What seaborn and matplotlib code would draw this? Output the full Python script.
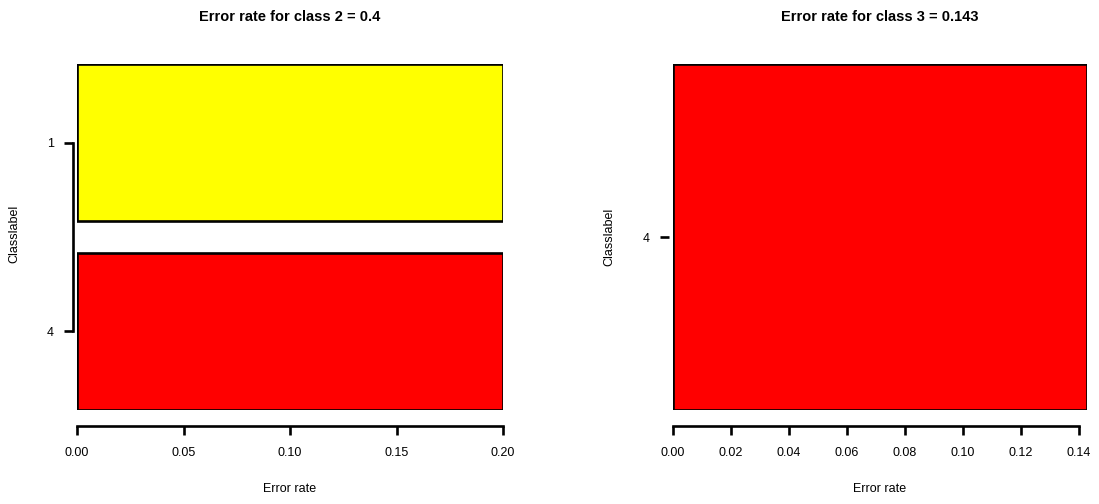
import matplotlib
matplotlib.use("Agg")
import matplotlib.pyplot as plt
import seaborn as sns
import pandas as pd
from matplotlib.ticker import FormatStrFormatter

# ---- data ----
left_title = "Error rate for class 2 = 0.4"
left_classes = ["1", "4"]
left_rates = [0.2, 0.2]
left_colors = ["#FFFF00", "#FF0000"]
left_xticks = [0.00, 0.05, 0.10, 0.15, 0.20]

right_title = "Error rate for class 3 = 0.143"
right_classes = ["4"]
right_rates = [0.142857]
right_colors = ["#FF0000"]
right_xticks = [0.00, 0.02, 0.04, 0.06, 0.08, 0.10, 0.12, 0.14]

x_label = "Error rate"
y_label = "Classlabel"

sns.set_style("white")
plt.rcParams["font.family"] = ["Liberation Sans", "DejaVu Sans"]
plt.rcParams["text.color"] = "black"
plt.rcParams["axes.labelcolor"] = "black"

W, H = 1099, 504
fig = plt.figure(figsize=(W / 100, H / 100), dpi=100)

BAR_W = 1 / 1.2
LW = 1.9


def panel(rect, title, classes, rates, colors, xticks, xmax):
    ax = fig.add_axes(rect)
    df = pd.DataFrame({"cls": classes, "rate": rates})
    sns.barplot(data=df, x="rate", y="cls", hue="cls", palette=colors,
                orient="h", width=BAR_W, edgecolor="black", linewidth=LW,
                legend=False, saturation=1, ax=ax)
    n = len(classes)
    ax.set_ylim(n - 1 + BAR_W / 2, -BAR_W / 2)
    ax.set_xlim(0, xmax)
    ax.set_xticks(xticks)
    ax.xaxis.set_major_formatter(FormatStrFormatter("%.2f"))
    for s in ["top", "right"]:
        ax.spines[s].set_visible(False)
    ax.spines["bottom"].set_position(("outward", 11.5))
    ax.spines["bottom"].set_bounds(xticks[0], xticks[-1])
    ax.spines["left"].set_position(("outward", 3))
    ax.spines["left"].set_bounds(0, n - 1)
    if n == 1:
        ax.spines["left"].set_visible(False)
    for s in ["bottom", "left"]:
        ax.spines[s].set_linewidth(LW)
        ax.spines[s].set_color("black")
    ax.tick_params(axis="x", direction="out", length=6.5, width=LW,
                   pad=9, labelsize=9, colors="black", bottom=True)
    ax.tick_params(axis="y", direction="out", length=6.5, width=LW,
                   pad=7, labelsize=9, colors="black", left=True)
    ax.set_xlabel(x_label, fontsize=9, color="black")
    ax.set_ylabel(y_label, fontsize=9, color="black")
    ax.set_title(title, fontsize=10.5, fontweight="bold", pad=31,
                 color="black")
    return ax


axL = panel([77 / W, 94 / H, 426 / W, 346 / H], left_title, left_classes,
            left_rates, left_colors, left_xticks, 0.20)
axR = panel([673 / W, 94 / H, 414 / W, 346 / H], right_title, right_classes,
            right_rates, right_colors, right_xticks, 0.142857)

axL.xaxis.set_label_coords(0.5, (410 - 483) / 346)
axR.xaxis.set_label_coords(0.5, (410 - 483) / 346)
axL.yaxis.set_label_coords((20 - 77) / 426, 0.51)
axR.yaxis.set_label_coords((615 - 673) / 414, 0.5)

fig.savefig("out.png", dpi=100)
